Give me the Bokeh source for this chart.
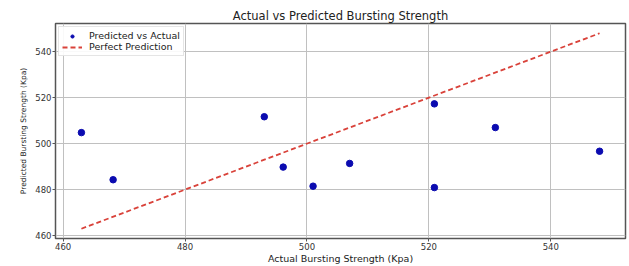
from bokeh.plotting import figure
from bokeh.models import Range1d, FixedTicker, Legend, LegendItem
from bokeh.embed import file_html
from bokeh.resources import INLINE

actual = [463.0, 468.2, 493.0, 496.1, 501.0, 507.0, 520.9, 520.9, 530.9, 548.0]
predicted = [504.8, 484.3, 511.7, 489.8, 481.5, 491.4, 517.3, 480.9, 507.0, 496.7]
ticks = [460, 480, 500, 520, 540]

lo, hi = min(actual), max(actual)
pad = (hi - lo) * 0.05

p = figure(width=629, height=266, output_backend="svg", toolbar_location=None,
           x_range=Range1d(lo - pad, hi + pad), y_range=Range1d(lo - pad, hi + pad),
           min_border_left=55, min_border_right=4, min_border_top=23, min_border_bottom=24)

p.title.text = "Actual vs Predicted Bursting Strength"
p.title.align = "center"
p.title.text_font = "DejaVu Sans"
p.title.text_font_size = "11.5px"
p.title.text_font_style = "normal"
p.title.text_color = "#222222"
p.title.standoff = 2

r1 = p.scatter(actual, predicted, size=6.5, color="#0b0bb0")
r2 = p.line([lo, hi], [lo, hi], line_color="#d9423a", line_width=1.8, line_dash="5 3")

for ax in (p.xaxis[0], p.yaxis[0]):
    ax.ticker = FixedTicker(ticks=ticks)
    ax.minor_tick_line_color = None
    ax.major_tick_in = 0
    ax.major_tick_out = 3
    ax.major_label_text_font = "DejaVu Sans"
    ax.major_label_text_font_size = "8.5px"
    ax.major_label_text_color = "#333333"
    ax.major_label_standoff = 1
    ax.axis_line_color = None
    ax.major_tick_line_color = "#555555"
    ax.axis_label_text_font = "DejaVu Sans"
    ax.axis_label_text_font_style = "normal"
    ax.axis_label_text_color = "#222222"
    ax.axis_label_standoff = 0

p.xaxis.axis_label = "Actual Bursting Strength (Kpa)"
p.xaxis.axis_label_text_font_size = "9.5px"
p.yaxis.axis_label = "Predicted Bursting Strength (Kpa)"
p.yaxis.axis_label_text_font_size = "7.5px"
p.yaxis.axis_label_standoff = 4

p.xgrid.grid_line_color = "#c0c0c0"
p.ygrid.grid_line_color = "#c0c0c0"
p.xgrid.grid_line_width = 1
p.ygrid.grid_line_width = 1

p.outline_line_color = "#555555"
p.outline_line_width = 1.5

legend = Legend(items=[LegendItem(label="Predicted vs Actual", renderers=[r1]),
                       LegendItem(label="Perfect Prediction", renderers=[r2])],
                location="top_left")
legend.label_text_font = "DejaVu Sans"
legend.label_text_font_size = "9.5px"
legend.label_text_color = "#222222"
legend.label_text_line_height = 0.9
legend.label_height = 8
legend.glyph_height = 8
legend.glyph_width = 20
legend.label_standoff = 7
legend.spacing = 0
legend.padding = 3
legend.margin = 3
legend.border_line_color = "#cccccc"
legend.background_fill_alpha = 0.9
p.add_layout(legend)

open("out.html", "w").write(file_html(p, INLINE))
